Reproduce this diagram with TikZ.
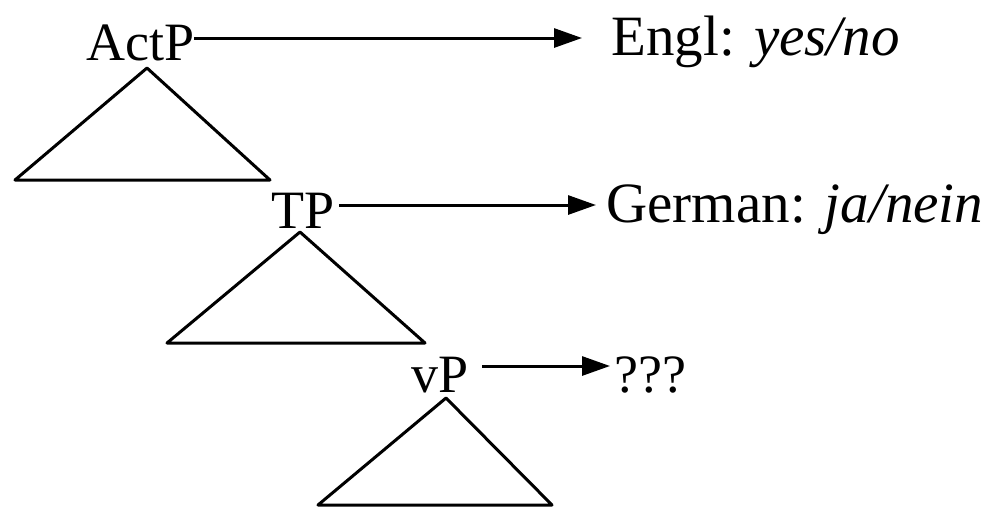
\documentclass[tikz,border=0pt]{standalone}
\usepackage{fontspec}
\setmainfont{Liberation Serif}
\usetikzlibrary{arrows.meta}

\begin{document}
\begin{tikzpicture}[x=0.5pt, y=-0.5pt, line width=1.5pt,
  lbl/.style={inner sep=0pt, anchor=base west, font=\fontsize{27}{30}\selectfont},
  gloss/.style={lbl, font=\fontsize{28.5}{32}\selectfont},
  arr/.style={-{Triangle[length=14pt,width=9.5pt]}}]

\useasboundingbox (0,0) rectangle (995,509);

\coordinate (r1) at (0,38);
\coordinate (r2) at (0,205);
\coordinate (r3) at (0,366);

\node[lbl] (actp) at (85,60) {ActP};
\node[lbl] (tp) at (270,228) {TP};
\node[lbl] (vp) at (410,392) {vP};

\node[gloss] (engl) at (610,55) {Engl: \textit{yes/no}};
\node[gloss] (german) at (605,222) {German: \textit{ja/nein}};
\node[lbl] (qqq) at (613,392) {???};

% triangles under each phrase
\draw[line join=round] (147,68) -- (270,180) -- (15,180) -- cycle;
\draw[line join=round] (300,232) -- (425,343) -- (167,343) -- cycle;
\draw[line join=round] (446,398) -- (552,505) -- (318,505) -- cycle;

\draw[arr, shorten <=-1pt, shorten >=14pt] (actp.east |- r1) -- (engl.west |- r1);
\draw[arr, shorten <=1.5pt, shorten >=4.5pt] (tp.east |- r2) -- (german.west |- r2);
\draw[arr, shorten <=6pt, shorten >=1.5pt] (vp.east |- r3) -- (qqq.west |- r3);

\end{tikzpicture}
\end{document}
